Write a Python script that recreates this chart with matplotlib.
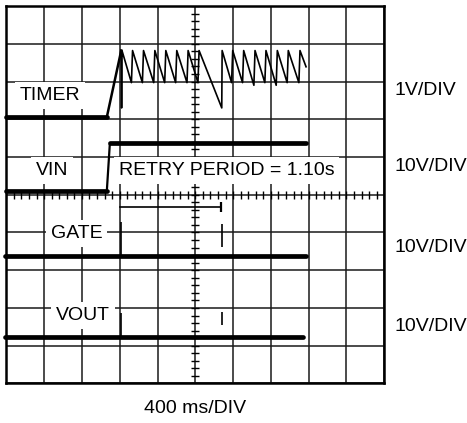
import matplotlib
matplotlib.use("Agg")
import matplotlib.pyplot as plt
import numpy as np

plt.rcParams["font.family"] = ["Liberation Sans", "DejaVu Sans"]

# ---------------------------------------------------------------------------
# Trace data, in screen divisions (10 x 10 graticule, origin bottom-left)
# ---------------------------------------------------------------------------
timer_x = [0.0, 2.66, 3.04, 3.05, 3.06,
           3.31, 3.34, 3.60, 3.63, 3.90, 3.93, 4.19, 4.22,
           4.48, 4.51, 4.78, 4.81, 5.07, 5.10,
           5.70, 5.71,
           5.96, 5.99, 6.25, 6.28, 6.55, 6.58, 6.84, 6.87,
           7.14, 7.17, 7.43, 7.46, 7.74, 7.77, 7.93]
timer_y = [7.06, 7.06, 8.82, 7.30, 8.82,
           7.97, 8.82, 7.97, 8.82, 7.97, 8.82, 7.97, 8.82,
           7.97, 8.82, 7.97, 8.82, 7.97, 8.82,
           7.30, 8.82,
           7.97, 8.82, 7.97, 8.82, 7.90, 8.82, 7.97, 8.82,
           7.90, 8.82, 7.97, 8.82, 7.97, 8.82, 8.39]

vin_x = [0.0, 2.66, 2.74, 7.93]
vin_y = [5.11, 5.11, 6.37, 6.37]

gate_x = [-0.03, 7.93]
gate_y = [3.38, 3.38]
gate_spikes_x = [3.03, 5.70]
gate_spikes_lo = [3.38, 3.62]
gate_spikes_hi = [4.29, 4.22]

vout_x = [-0.03, 7.85]
vout_y = [1.24, 1.24]
vout_spikes_x = [3.03, 5.70]
vout_spikes_lo = [1.24, 1.55]
vout_spikes_hi = [1.86, 1.90]

# retry period marker
bracket_x = [3.01, 5.67]
bracket_y = 4.67

# labels
trace_labels = ["TIMER", "VIN", "GATE", "VOUT"]
trace_label_x = [1.16, 1.21, 1.86, 2.02]
trace_label_y = [7.62, 5.64, 3.97, 1.81]
scale_labels = ["1V/DIV", "10V/DIV", "10V/DIV", "10V/DIV"]
scale_label_y = [7.77, 5.74, 3.61, 1.50]
retry_text = "RETRY PERIOD = 1.10s"
time_text = "400 ms/DIV"

# ---------------------------------------------------------------------------
# Figure
# ---------------------------------------------------------------------------
fig = plt.figure(figsize=(4.67, 4.23), dpi=100)
ax = fig.add_axes([0.0135, 0.0934, 0.8094, 0.8924])
ax.set_xlim(0, 10)
ax.set_ylim(0, 10)

# graticule
ax.set_xticks(range(11))
ax.set_yticks(range(11))
ax.tick_params(length=0, labelbottom=False, labelleft=False)
ax.grid(True, color="#1a1a1a", lw=1.1)
ax.set_axisbelow(True)
for sp in ax.spines.values():
    sp.set_linewidth(1.8)
    sp.set_color("black")

# minor ticks along the centre lines
minor = np.arange(0, 10.01, 0.2)
ax.plot(minor, np.full_like(minor, 5), ls="none", marker="|", ms=6,
        mew=1.0, color="black", zorder=2)
ax.plot(np.full_like(minor, 5), minor, ls="none", marker="_", ms=6,
        mew=1.0, color="black", zorder=2)

# label boxes (white background masks the grid)
box = dict(facecolor="white", edgecolor="none", pad=3.5)
for txt, lx, ly in zip(trace_labels, trace_label_x, trace_label_y):
    ax.text(lx, ly, txt, fontsize=14, ha="center", va="center",
            bbox=box, zorder=3)
ax.text(5.83, 5.64, retry_text, fontsize=14, ha="center", va="center",
        bbox=box, zorder=3)

for txt, ly in zip(scale_labels, scale_label_y):
    ax.text(10.26, ly, txt, fontsize=14, ha="left", va="center",
            clip_on=False)
ax.text(5.0, -0.65, time_text, fontsize=14, ha="center", va="center",
        clip_on=False)

# traces
thick = dict(color="black", lw=3.4, solid_capstyle="round", zorder=4,
             clip_on=False)
ax.plot(timer_x[:2], timer_y[:2], **thick)
ax.plot(timer_x[1:3], timer_y[1:3], color="black", lw=1.8, zorder=4)
ax.plot(timer_x[2:], timer_y[2:], color="black", lw=1.2, zorder=4)

ax.plot(vin_x[:2], vin_y[:2], **thick)
ax.plot(vin_x[1:3], vin_y[1:3], color="black", lw=1.6, zorder=4)
ax.plot(vin_x[2:], vin_y[2:], **thick)

ax.plot(gate_x, gate_y, **thick)
ax.vlines(gate_spikes_x, gate_spikes_lo, gate_spikes_hi, color="black",
          lw=1.2, zorder=4)
ax.plot(vout_x, vout_y, **thick)
ax.vlines(vout_spikes_x, vout_spikes_lo, vout_spikes_hi, color="black",
          lw=1.2, zorder=4)

# retry period bracket
ax.plot(bracket_x, [bracket_y, bracket_y], color="black", lw=1.2, zorder=4)
ax.vlines(bracket_x[1], bracket_y - 0.12, bracket_y + 0.13, color="black",
          lw=1.6, zorder=4)

fig.savefig("out.png", dpi=100, facecolor="white")
